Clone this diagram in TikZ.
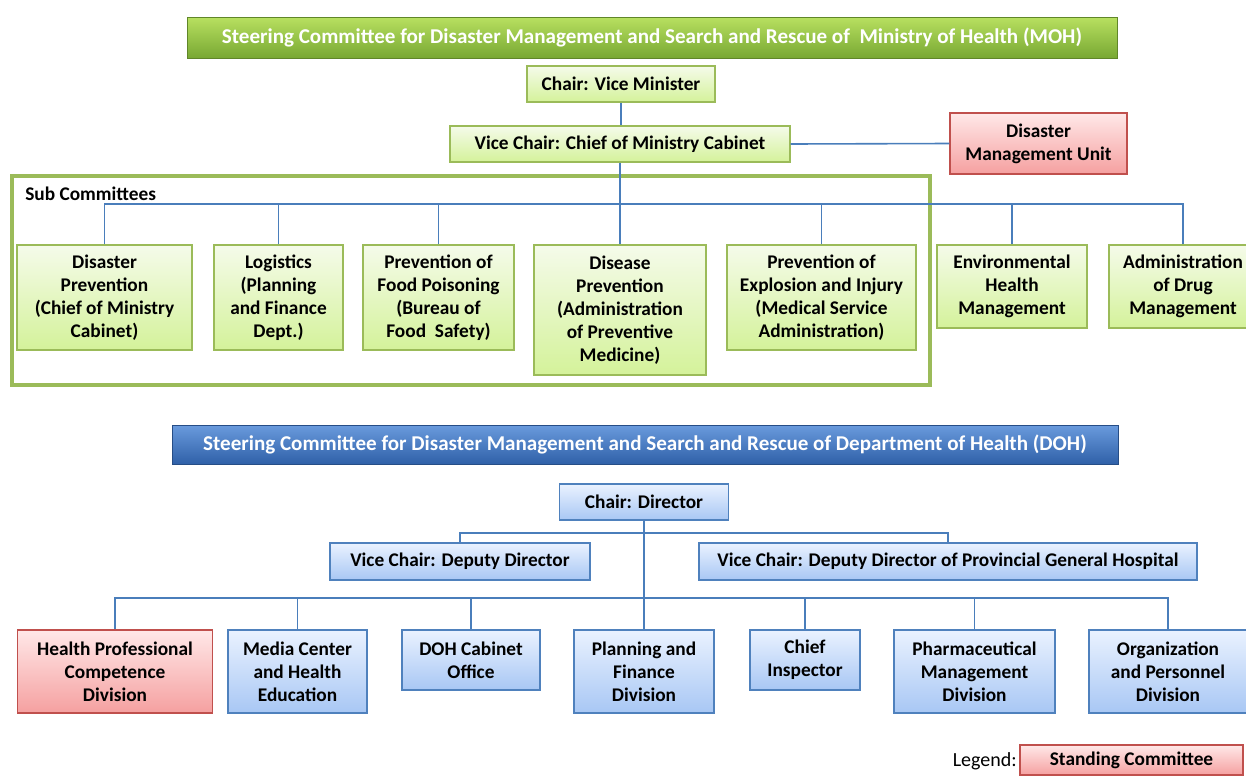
\documentclass[tikz,border=0pt]{standalone}
\usepackage{fontspec}
\setmainfont{Carlito}
\definecolor{gborder}{HTML}{9BBB59}
\definecolor{gtop}{HTML}{F5FBEA}
\definecolor{gbot}{HTML}{D4F29A}
\definecolor{rborder}{HTML}{C0504D}
\definecolor{rtop}{HTML}{FFE8E8}
\definecolor{rbot}{HTML}{F5A0A0}
\definecolor{bborder}{HTML}{4F81BD}
\definecolor{btop}{HTML}{EAF2FF}
\definecolor{bbot}{HTML}{A8C7F4}
\definecolor{lineblue}{HTML}{4A7EBB}
\definecolor{gbantop}{HTML}{B8E060}
\definecolor{gbanbot}{HTML}{78A833}
\definecolor{bbantop}{HTML}{6A9BDD}
\definecolor{bbanbot}{HTML}{2F60A8}
\begin{document}
\begin{tikzpicture}[x=0.75pt,y=-0.75pt,
  every node/.style={font=\bfseries\fontsize{14.5}{17.25}\selectfont, align=center, inner sep=0pt},
  sz/.style 2 args={minimum width=#1*0.75pt, minimum height=#2*0.75pt},
  gbox/.style={draw=gborder, line width=1pt, top color=gtop, bottom color=gbot},
  rbox/.style={draw=rborder, line width=1pt, top color=rtop, bottom color=rbot},
  bbox/.style={draw=bborder, line width=1pt, top color=btop, bottom color=bbot},
  banner/.style={font=\bfseries\fontsize{15.8}{19}\selectfont, text=white},
  gbanner/.style={banner, draw=gbanbot!80!black, line width=0.6pt, top color=gbantop, bottom color=gbanbot},
  bbanner/.style={banner, draw=bbanbot!80!black, line width=0.6pt, top color=bbantop, bottom color=bbanbot},
  subframe/.style={draw=gborder, line width=2.4pt},
  conn/.style={draw=lineblue, line width=1.2pt}]
\useasboundingbox (0,0) rectangle (1246,775);

% ---------- MOH ----------
\node[gbanner, sz={930}{41}] (moh) at (652,37.5) {Steering Committee for Disaster Management and Search and Rescue of ~Ministry of Health (MOH)};
\node[gbox, sz={188}{36}] (vm) at (621,84) {Chair: Vice Minister};
\node[gbox, sz={340}{36}] (vc) at (620,144) {Vice Chair: Chief of Ministry Cabinet};
\node[rbox, sz={177}{61}] (dmu) at (1038.5,143.5) {Disaster\\Management Unit};
\node[subframe, sz={918}{209}] (sub) at (471,280.5) {};
\node[anchor=west] (sublbl) at (25,194) {Sub Committees};

\node[gbox, sz={175}{105}] (dp) at (104.5,297.5) {Disaster\\Prevention\\(Chief of Ministry\\Cabinet)};
\node[gbox, sz={129}{105}] (lg) at (278.5,297.5) {Logistics\\(Planning\\and Finance\\Dept.)};
\node[gbox, sz={151}{105}] (fp) at (438.5,297.5) {Prevention of\\Food Poisoning\\(Bureau of\\Food~ Safety)};
\node[gbox, sz={172}{130}] (dz) at (620,310) {Disease\\Prevention\\(Administration\\of Preventive\\Medicine)};
\node[gbox, sz={189}{105}] (ex) at (821.5,297.5) {Prevention of\\Explosion and Injury\\(Medical Service\\Administration)};
\node[gbox, sz={150}{83}] (env) at (1012,286.5) {Environmental\\Health\\Management};
\node[gbox, sz={148}{83}] (drug) at (1183,286.5) {Administration\\of Drug\\Management};

\coordinate (bus1) at (620,204);
\draw[conn] (vm.south) -- (vm.south |- vc.north);
\draw[conn] (vc.east) -- (dmu.west);
\draw[conn] (vc.south) -- (dz.north);
\foreach \c in {dp,lg,fp,ex,env,drug} \draw[conn] (\c.north) |- (bus1);

% ---------- DOH ----------
\node[bbanner, sz={946}{39}] (doh) at (645,444.5) {Steering Committee for Disaster Management and Search and Rescue of Department of Health (DOH)};
\node[bbox, sz={169}{36}] (dir) at (644,502) {Chair: Director};
\node[bbox, sz={260}{37}] (dd) at (460,561.5) {Vice Chair: Deputy Director};
\node[bbox, sz={498}{37}] (pd) at (948,561.5) {Vice Chair: Deputy Director of Provincial General Hospital};

\node[rbox, sz={195}{83}] (hp) at (115,671.5) {Health Professional\\Competence\\Division};
\node[bbox, sz={139}{83}] (mc) at (297.5,671.5) {Media Center\\and Health\\Education};
\node[bbox, sz={138}{60}] (cab) at (471,660) {DOH Cabinet\\Office};
\node[bbox, sz={140}{83}] (pf) at (644,671.5) {Planning and\\Finance\\Division};
\node[bbox, sz={110}{60}] (ci) at (805,660) {Chief\\Inspector};
\node[bbox, sz={161}{83}] (ph) at (974.5,671.5) {Pharmaceutical\\Management\\Division};
\node[bbox, sz={158}{83}] (org) at (1168,671.5) {Organization\\and Personnel\\Division};

\coordinate (vbus) at (644,533);
\coordinate (dbus) at (644,598);
\draw[conn] (dd.north) |- (vbus) -| (pd.north);
\draw[conn] (dir.south) -- (pf.north);
\foreach \c in {hp,mc,cab,ci,ph,org} \draw[conn] (\c.north) |- (dbus);

% ---------- Legend ----------
\node[rbox, sz={223}{30}] (leg) at (1131.5,760) {Standing Committee};
\node[font=\mdseries\fontsize{15}{17}\selectfont, anchor=east] (legtxt) at (1017,761) {Legend:};
\end{tikzpicture}
\end{document}
